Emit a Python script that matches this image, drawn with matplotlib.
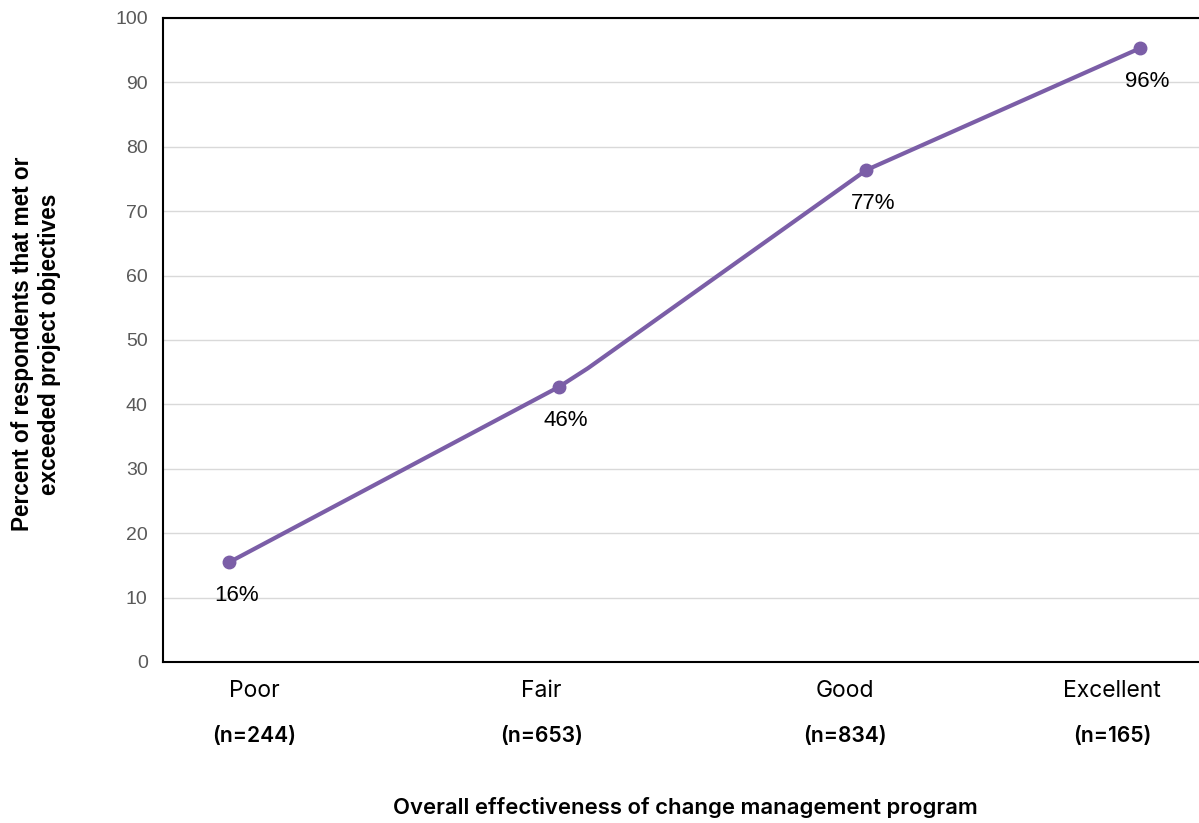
import matplotlib.pyplot as plt
from matplotlib.transforms import blended_transform_factory

# values (x on a 0-100 axis scale)
categories = ['Poor', 'Fair', 'Good', 'Excellent']
counts = ['(n=244)', '(n=653)', '(n=834)', '(n=165)']
label_x = [8.8, 36.5, 65.8, 91.6]
point_x = [6.4, 38.2, 67.9, 94.3]
point_y = [15.5, 42.7, 76.4, 95.3]
point_labels = ['16%', '46%', '77%', '96%']
# the drawn line has one extra unmarked bend just after "Fair"
line_x = [6.4, 38.2, 41.0, 67.9, 94.3]
line_y = [15.5, 42.7, 45.6, 76.4, 95.3]
marked = [0, 1, 3, 4]

purple = '#7b5ea7'

fig = plt.figure(figsize=(11.99, 8.23), dpi=100)
ax = fig.add_axes([163 / 1199, 1 - 662 / 823, 1 - 163 / 1199, (662 - 18) / 823])

ax.plot(line_x, line_y, color=purple, lw=3, marker='o', ms=9,
        markevery=marked, solid_joinstyle='round', solid_capstyle='round', zorder=3)

for x, y, t in zip(point_x, point_y, point_labels):
    ax.annotate(t, (x, y), xytext=(5, -24), textcoords='offset points',
                ha='center', va='center', fontsize=16,
                family='Liberation Sans', color='black')

ax.set_xlim(0, 100)
ax.set_ylim(0, 100)
ax.set_yticks(range(0, 101, 10))
ax.set_xticks([])
ax.grid(axis='y', color='#d9d9d9', lw=1)
ax.set_axisbelow(True)
ax.tick_params(axis='y', length=0, pad=11, labelsize=14, labelcolor='#595959')
for lab in ax.get_yticklabels():
    lab.set_family('Liberation Sans')

for side in ['left', 'bottom', 'top']:
    ax.spines[side].set_color('black')
    ax.spines[side].set_linewidth(1.5)
ax.spines['right'].set_visible(False)

tr = blended_transform_factory(ax.transData, fig.transFigure)
for x, c, n in zip(label_x, categories, counts):
    ax.text(x, 1 - 691 / 823, c, transform=tr, ha='center', va='center',
            fontsize=16.5, family='Inter', clip_on=False)
    ax.text(x, 1 - 736 / 823, n, transform=tr, ha='center', va='center',
            fontsize=15.2, family='Inter', weight='semibold', clip_on=False)

fig.text(685 / 1199, 1 - 808 / 823, 'Overall effectiveness of change management program',
         ha='center', va='center', fontsize=15.9, family='Inter', weight='semibold')
fig.text(36 / 1199, 1 - 344 / 823, 'Percent of respondents that met or\nexceeded project objectives',
         rotation=90, ha='center', va='center', fontsize=16.3, family='Liberation Sans',
         weight='bold', linespacing=1.25)

fig.savefig('out.png', dpi=100)
